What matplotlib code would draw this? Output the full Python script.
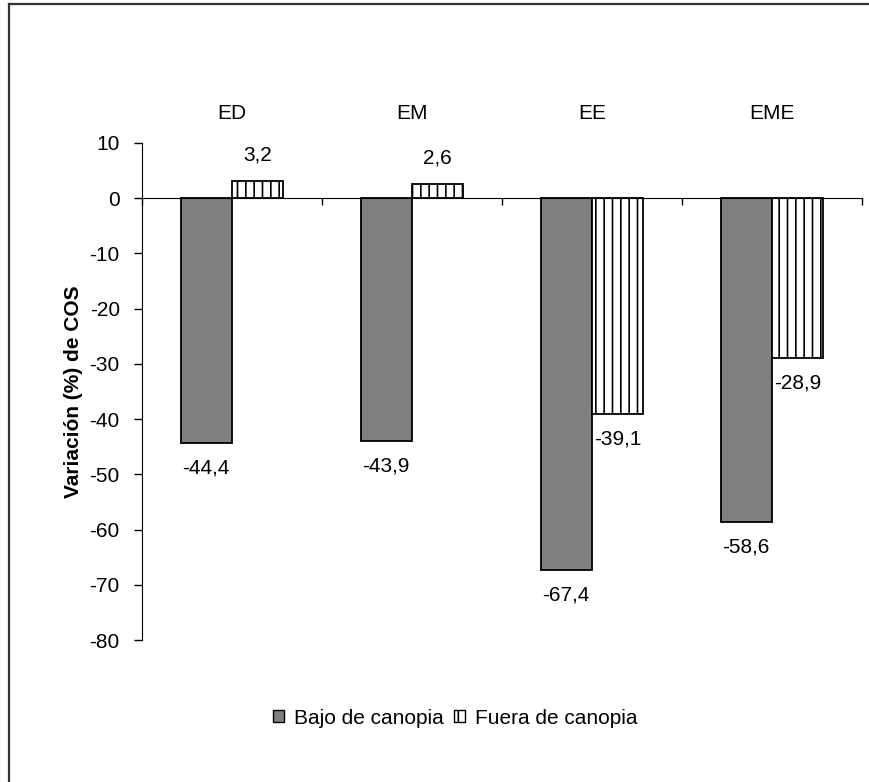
import matplotlib.pyplot as plt
from matplotlib.patches import Patch
from matplotlib.lines import Line2D

plt.rcParams['font.family'] = ['Liberation Sans', 'DejaVu Sans']
plt.rcParams['hatch.linewidth'] = 1.2

categories = ["ED", "EM", "EE", "EME"]
bajo = [-44.4, -43.9, -67.4, -58.6]
fuera = [3.2, 2.6, -39.1, -28.9]
series_names = ["Bajo de canopia", "Fuera de canopia"]
yticks = [10, 0, -10, -20, -30, -40, -50, -60, -70, -80]


def fmt(v):
    return f"{v:.1f}".replace(".", ",")


fig = plt.figure(figsize=(8.7, 7.82), dpi=100)
ax = fig.add_axes([142 / 870, 1 - 640 / 782, 720 / 870, 497 / 782])

w = 1 / 3.5
xs = list(range(len(categories)))
b1 = ax.bar([x - w / 2 for x in xs], bajo, width=w, color="#808080",
            edgecolor="black", linewidth=1.3, zorder=3)
b2 = ax.bar([x + w / 2 for x in xs], fuera, width=w, color="white",
            edgecolor="black", linewidth=1.3, hatch="||", zorder=3)

fs = 15
for bars, vals in ((b1, bajo), (b2, fuera)):
    for r, v in zip(bars, vals):
        off = 26 if v > 0 else -25
        ax.annotate(fmt(v), (r.get_x() + r.get_width() / 2, v),
                    xytext=(0, off), textcoords="offset pixels",
                    ha="center", va="center", fontsize=fs)

# category names sit above the plot
for x, c in zip(xs, categories):
    ax.text(x, 1.06, c, transform=ax.get_xaxis_transform(),
            ha="center", va="center", fontsize=fs)

ax.set_xlim(-0.5, len(categories) - 0.5)
ax.set_ylim(-80, 10)
ax.set_yticks(yticks)
ax.set_yticklabels([str(t) for t in yticks], fontsize=fs)
ax.set_xticks([x - 0.5 for x in range(len(categories) + 1)])
ax.set_xticklabels([])
ax.spines["bottom"].set_position(("data", 0))
ax.spines["top"].set_visible(False)
ax.spines["right"].set_visible(False)
ax.spines["left"].set_color("black")
ax.spines["bottom"].set_zorder(4)
ax.tick_params(axis="y", direction="out", length=6, width=1, pad=10)
ax.tick_params(axis="x", direction="out", length=5, width=1)
ax.set_ylabel("Variación (%) de COS", fontsize=fs, fontweight="bold", labelpad=5)

handles = [Patch(facecolor="#808080", edgecolor="black", linewidth=1.0),
           Patch(facecolor="white", edgecolor="black", linewidth=1.0, hatch="|")]
fig.legend(handles, series_names, loc="center", bbox_to_anchor=(455 / 870, 1 - 718 / 782),
           ncol=2, frameon=False, fontsize=fs, handlelength=0.55, handleheight=0.55,
           handletextpad=0.45, columnspacing=0.5)

# frame only shows on the left and top edge
fig.add_artist(Line2D([9 / 870, 9 / 870], [0, 1 - 4 / 782], color="#333333", lw=1.6))
fig.add_artist(Line2D([9 / 870, 1], [1 - 4 / 782, 1 - 4 / 782], color="#333333", lw=1.6))

fig.savefig("out.png", dpi=100)
